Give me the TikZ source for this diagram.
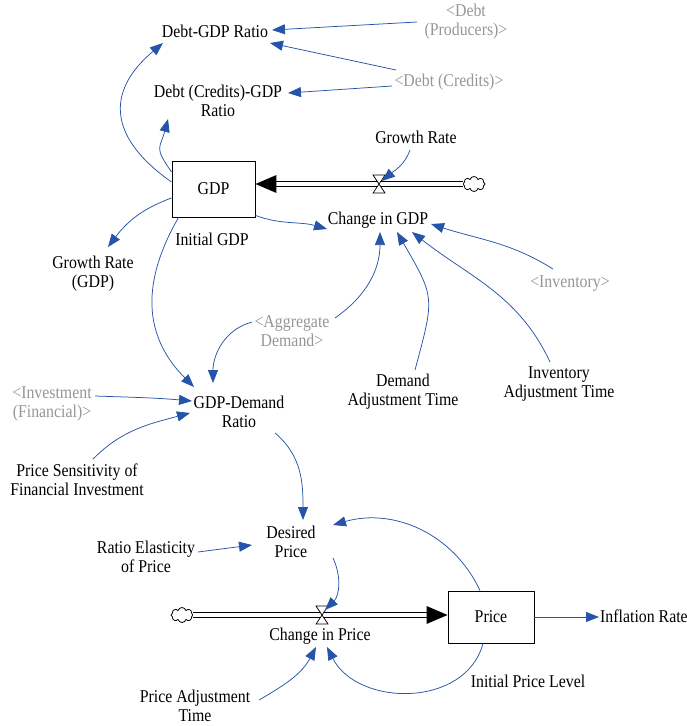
\documentclass[tikz,border=0pt]{standalone}
\usepackage{fontspec}
\setmainfont{Liberation Serif}[FakeStretch=0.88]
\usetikzlibrary{arrows.meta,shapes.symbols}
\definecolor{linkblue}{RGB}{37,84,168}
\definecolor{shadowgray}{RGB}{150,150,150}
\begin{document}
\begin{tikzpicture}[x=1pt,y=1pt,
  lbl/.style={anchor=base, align=center, inner sep=0pt, font=\fontsize{18}{19}\selectfont},
  ghost/.style={lbl, text=shadowgray},
  stock/.style={draw, line width=0.9pt, minimum width=83pt, minimum height=56pt, inner sep=0pt, font=\fontsize{18}{19}\selectfont},
  link/.style={draw=linkblue, line width=0.75pt, -{Triangle[length=13pt,width=10pt]}},
  pipe/.style={double distance=3.4pt, line width=0.9pt},
  source/.style={cloud, draw, cloud puffs=8, aspect=1.4, minimum width=22pt, minimum height=15pt, inner sep=0pt, fill=white, line width=0.8pt},
  valvebox/.style={fill=white, line width=0.7pt}
]
\useasboundingbox (0,0) rectangle (687,-726);

% ---- variables (base = baseline of the last line) ----
\node[lbl]   (dgr)   at (215,-37)  {Debt-GDP Ratio};
\node[ghost] (dprod) at (466,-35)  {<Debt\\(Producers)>};
\node[lbl]   (dcr)   at (218,-116) {Debt (Credits)-GDP\\Ratio};
\node[ghost] (dcred) at (449,-86)  {<Debt (Credits)>};
\node[stock] (gdp)   at (213.5,-189) {GDP};
\node[lbl]   (gr)    at (416,-143) {Growth Rate};
\coordinate  (v1)    at (379,-184);
\node[source] (c1)   at (474,-184) {};
\node[lbl]   (cgdp)  at (378,-224) {Change in GDP};
\node[lbl]   (igdp)  at (212,-245) {Initial GDP};
\node[lbl]   (grg)   at (93,-287)  {Growth Rate\\(GDP)};
\node[ghost] (inv)   at (570,-287) {<Inventory>};
\node[ghost] (agg)   at (292,-346) {<Aggregate\\Demand>};
\node[lbl]   (dat)   at (403,-405) {Demand\\Adjustment Time};
\node[lbl]   (iat)   at (559,-397) {Inventory\\Adjustment Time};
\node[ghost] (invf)  at (52,-417)  {<Investment\\(Financial)>};
\node[lbl]   (gdr)   at (239,-427) {GDP-Demand\\Ratio};
\node[lbl]   (psfi)  at (77,-495)  {Price Sensitivity of\\Financial Investment};
\node[lbl]   (dp)    at (291,-557) {Desired\\Price};
\node[lbl]   (rep)   at (146,-572) {Ratio Elasticity\\of Price};
\node[stock, minimum width=86pt, minimum height=52pt] (price) at (491,-617) {Price};
\node[source] (c2)   at (182,-615) {};
\coordinate  (v2)    at (322,-615);
\node[lbl]   (cip)   at (320,-640) {Change in Price};
\node[lbl, anchor=base west] (infl) at (600,-622) {Inflation Rate};
\node[lbl]   (ipl)   at (528,-687) {Initial Price Level};
\node[lbl]   (pat)   at (195,-721) {Price Adjustment\\Time};

% ---- flows ----
\draw[pipe] (c1.west) -- ([shift={(21,5)}]gdp.east);
\fill ([shift={(0,5)}]gdp.east) -- ++(21,9) -- ++(0,-18) -- cycle;
\draw[valvebox] ([shift={(-6,9)}]v1) -- ([shift={(6,9)}]v1) -- ([shift={(-6,-9)}]v1) -- ([shift={(6,-9)}]v1) -- cycle;

\draw[pipe] (c2.east) -- ([shift={(-21,2)}]price.west);
\fill ([shift={(0,2)}]price.west) -- ++(-21,9) -- ++(0,-18) -- cycle;
\draw[valvebox] ([shift={(-6,9)}]v2) -- ([shift={(6,9)}]v2) -- ([shift={(-6,-9)}]v2) -- ([shift={(6,-9)}]v2) -- cycle;

% ---- information links ----
\draw[link] ([shift={(-49,13)}]dprod.base) -- ([shift={(57,7)}]dgr.base);
\draw[link] ([shift={(-53,16)}]dcred.base) -- ([shift={(55,-6)}]dgr.base);
\draw[link] ([shift={(-57,0)}]dcred.base) -- ([shift={(70,23)}]dcr.base);
\draw[link] ([shift={(0,7)}]gdp.west) to[out=145,in=220,looseness=1.4] ([shift={(-52,-6)}]dgr.base);
\draw[link] ([shift={(0,17)}]gdp.west) to[out=125,in=255,looseness=1.5] ([shift={(-50,-3)}]dcr.base);
\draw[link] ([shift={(0,-9)}]gdp.west) to[out=200,in=53] ([shift={(15,40)}]grg.base);
\draw[link] ([shift={(0,2)}]gdp.south east) to[out=-20,in=164] ([shift={(-51,-5)}]cgdp.base);
\draw[link] ([shift={(7,0)}]gdp.south west) to[out=240,in=135,looseness=1.1] ([shift={(-45,40)}]gdr.base);
\draw[link] ([shift={(-6,-7)}]gr.base) to[out=250,in=40] ([shift={(3,3)}]v1);
\draw[link] ([shift={(43,28)}]agg.base) to[out=35,in=-90] ([shift={(2,-8)}]cgdp.base);
\draw[link] ([shift={(-40,24)}]agg.base) to[out=195,in=90] ([shift={(-26,44)}]gdr.base);
\draw[link] ([shift={(12,35)}]dat.base) to[out=75,in=-60,looseness=1.4] ([shift={(19,-8)}]cgdp.base);
\draw[link] ([shift={(-9,35)}]iat.base) to[out=115,in=-38] ([shift={(34,-8)}]cgdp.base);
\draw[link] ([shift={(-17,18)}]inv.base) to[out=148,in=-18] ([shift={(53,0)}]cgdp.base);
\draw[link] ([shift={(43,21)}]invf.base) to[out=-2,in=175] ([shift={(-47,26)}]gdr.base);
\draw[link] ([shift={(16,36)}]psfi.base) to[out=45,in=195] ([shift={(-49,14)}]gdr.base);
\draw[link] ([shift={(36,-6)}]gdr.base) to[out=-40,in=90] ([shift={(12,37)}]dp.base);
\draw[link] ([shift={(52,20)}]rep.base) -- ([shift={(-39,12)}]dp.base);
\draw[link] ([shift={(-11,0)}]price.north) to[out=115,in=16] ([shift={(42,32)}]dp.base);
\draw[link] ([shift={(42,-1)}]dp.base) to[out=-65,in=45] ([shift={(3,5)}]v2);
\draw[link] ([shift={(64,21)}]pat.base) to[out=30,in=242] ([shift={(-4,-7)}]cip.base);
\draw[link] ([shift={(-8,0)}]price.south) to[out=-105,in=-63,looseness=1.1] ([shift={(7,-7)}]cip.base);
\draw[link] (price.east) -- ([shift={(-1,5)}]infl.base west);
\end{tikzpicture}
\end{document}
